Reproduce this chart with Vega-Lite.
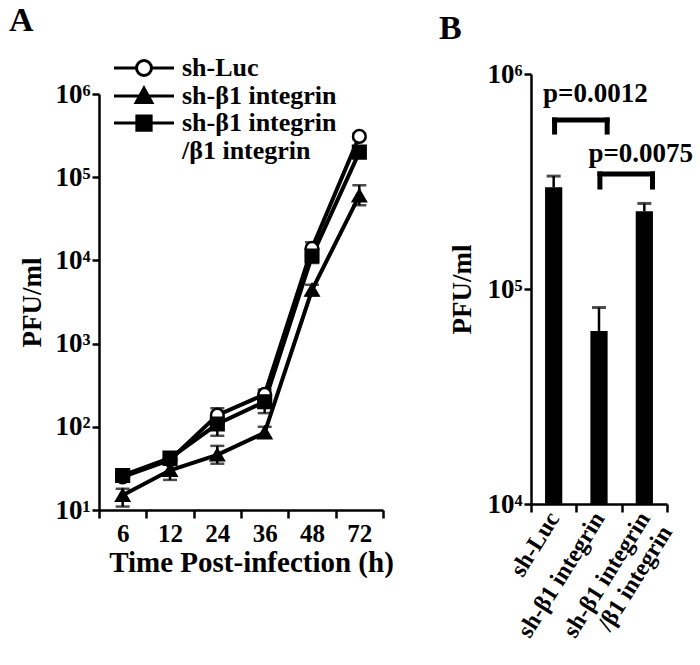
{
  "$schema": "https://vega.github.io/schema/vega-lite/v6.json",
  "background": "white",
  "padding": {"left": 8, "top": 4, "right": 5, "bottom": 5},
  "config": {
    "view": {"stroke": null},
    "font": "Liberation Serif",
    "axis": {
      "domain": true, "ticks": true,
      "domainColor": "#000000", "domainWidth": 2.5, "tickColor": "#000000", "tickWidth": 2.5, "tickSize": 8,
      "labelFont": "Liberation Serif", "labelFontWeight": "bold", "labelColor": "black", "labelFontSize": 25,
      "titleFont": "Liberation Serif", "titleFontWeight": "bold", "titleColor": "black", "titleFontSize": 27,
      "grid": false
    },
    "title": {"font": "Liberation Serif", "fontWeight": "bold", "fontSize": 34, "color": "black", "anchor": "start", "frame": "bounds"}
  },
  "datasets": {
    "growth": [
      {"series": "sh-Luc", "time": 6, "pfu": 25, "lo": 22, "hi": 28},
      {"series": "sh-Luc", "time": 12, "pfu": 40, "lo": 35, "hi": 45},
      {"series": "sh-Luc", "time": 24, "pfu": 138, "lo": 112, "hi": 167},
      {"series": "sh-Luc", "time": 36, "pfu": 245, "lo": 205, "hi": 280},
      {"series": "sh-Luc", "time": 48, "pfu": 14000, "lo": 11500, "hi": 16500},
      {"series": "sh-Luc", "time": 72, "pfu": 310000, "lo": 285000, "hi": 335000},
      {"series": "sh-β1 integrin", "time": 6, "pfu": 15, "lo": 11, "hi": 18},
      {"series": "sh-β1 integrin", "time": 12, "pfu": 30, "lo": 23, "hi": 36},
      {"series": "sh-β1 integrin", "time": 24, "pfu": 46, "lo": 36, "hi": 59},
      {"series": "sh-β1 integrin", "time": 36, "pfu": 85, "lo": 74, "hi": 100},
      {"series": "sh-β1 integrin", "time": 48, "pfu": 4400, "lo": 3800, "hi": 5100},
      {"series": "sh-β1 integrin", "time": 72, "pfu": 60000, "lo": 46000, "hi": 80000},
      {"series": "sh-β1 integrin/β1 integrin", "time": 6, "pfu": 26, "lo": 22, "hi": 30},
      {"series": "sh-β1 integrin/β1 integrin", "time": 12, "pfu": 42, "lo": 36, "hi": 48},
      {"series": "sh-β1 integrin/β1 integrin", "time": 24, "pfu": 108, "lo": 78, "hi": 130},
      {"series": "sh-β1 integrin/β1 integrin", "time": 36, "pfu": 200, "lo": 146, "hi": 250},
      {"series": "sh-β1 integrin/β1 integrin", "time": 48, "pfu": 11300, "lo": 9300, "hi": 13300},
      {"series": "sh-β1 integrin/β1 integrin", "time": 72, "pfu": 200000, "lo": 180000, "hi": 220000}
    ],
    "bars": [
      {"group": "sh-Luc", "pfu": 297000, "hi": 335000},
      {"group": "sh-β1 integrin", "pfu": 63800, "hi": 82000},
      {"group": "sh-β1 integrin/β1 integrin", "pfu": 230000, "hi": 250000}
    ],
    "brackets": [
      {"from": "sh-Luc", "to": "sh-β1 integrin", "top": 611000, "bottom": 537000, "label": "p=0.0012", "textAt": "sh-β1 integrin", "textPos": 740000},
      {"from": "sh-β1 integrin", "to": "sh-β1 integrin/β1 integrin", "top": 343000, "bottom": 298000, "label": "p=0.0075", "textAt": "sh-β1 integrin/β1 integrin", "textPos": 390000}
    ]
  },
  "spacing": 44,
  "hconcat": [
    {
      "width": 284,
      "height": 436,
      "title": {"text": "A", "dx": -10, "dy": -7, "offset": 10},
      "layer": [
        {
          "data": {"name": "growth"},
          "mark": {"type": "line", "strokeWidth": 4, "color": "black"},
          "encoding": {
            "x": {
              "field": "time", "type": "ordinal", "bandPosition": 0.5,
              "scale": {"type": "band", "paddingInner": 0, "paddingOuter": 0},
              "axis": {"title": "Time Post-infection (h)", "titleFontSize": 29, "titleX": 152, "labelAngle": 0, "tickBand": "extent", "labelPadding": 3, "titlePadding": 2}
            },
            "y": {
              "field": "pfu", "type": "quantitative",
              "scale": {"type": "log", "domain": [10, 1000000], "range": [436, 20], "nice": false},
              "axis": {
                "title": "PFU/ml", "values": [10, 100, 1000, 10000, 100000, 1000000],
                "labelExpr": "datum.value < 50 ? '10¹' : datum.value < 500 ? '10²' : datum.value < 5000 ? '10³' : datum.value < 50000 ? '10⁴' : datum.value < 500000 ? '10⁵' : '10⁶'",
                "labelFontSize": 27, "labelPadding": 2, "tickSize": 7, "titlePadding": 8
              }
            },
            "detail": {"field": "series", "type": "nominal"}
          }
        },
        {
          "data": {"name": "growth"},
          "mark": {"type": "rule", "strokeWidth": 2.5, "color": "black"},
          "encoding": {
            "x": {"field": "time", "type": "ordinal", "bandPosition": 0.5, "title": "Time Post-infection (h)"},
            "y": {"field": "lo", "type": "quantitative", "title": "PFU/ml"}, "y2": {"field": "hi"}
          }
        },
        {
          "data": {"name": "growth"},
          "mark": {"type": "tick", "thickness": 2.5, "size": 14, "color": "black"},
          "encoding": {
            "x": {"field": "time", "type": "ordinal", "bandPosition": 0.5, "title": "Time Post-infection (h)"},
            "y": {"field": "lo", "type": "quantitative", "title": "PFU/ml"}
          }
        },
        {
          "data": {"name": "growth"},
          "mark": {"type": "tick", "thickness": 2.5, "size": 14, "color": "black"},
          "encoding": {
            "x": {"field": "time", "type": "ordinal", "bandPosition": 0.5, "title": "Time Post-infection (h)"},
            "y": {"field": "hi", "type": "quantitative", "title": "PFU/ml"}
          }
        },
        {
          "data": {"name": "growth"},
          "mark": {"type": "point", "filled": true, "stroke": "black", "strokeWidth": 2.5, "size": 160, "opacity": 1},
          "encoding": {
            "x": {"field": "time", "type": "ordinal", "bandPosition": 0.5, "title": "Time Post-infection (h)"},
            "y": {"field": "pfu", "type": "quantitative", "title": "PFU/ml"},
            "shape": {"field": "series", "type": "nominal", "scale": {"domain": ["sh-Luc", "sh-β1 integrin", "sh-β1 integrin/β1 integrin"], "range": ["circle", "triangle-up", "square"]}, "legend": null},
            "fill": {"field": "series", "type": "nominal", "scale": {"domain": ["sh-Luc", "sh-β1 integrin", "sh-β1 integrin/β1 integrin"], "range": ["white", "black", "black"]}, "legend": null}
          }
        },
        {
          "data": {"name": "growth"},
          "transform": [{"filter": "false"}],
          "mark": {"type": "point", "filled": true, "strokeWidth": 3, "opacity": 1},
          "encoding": {
            "x": {"field": "time", "type": "ordinal", "bandPosition": 0.5, "title": "Time Post-infection (h)"},
            "y": {"field": "pfu", "type": "quantitative", "title": "PFU/ml"},
            "shape": {
              "field": "series", "type": "nominal",
              "scale": {"domain": ["sh-Luc", "sh-β1 integrin", "sh-β1 integrin/β1 integrin"], "range": ["M-4,0H-1M1,0H4M-1,0A1,1,0,1,0,1,0A1,1,0,1,0,-1,0Z", "M-4,0H4M0,-1.05L1.05,0.85L-1.05,0.85Z", "M-4,0H4M-0.95,-0.95H0.95V0.95H-0.95Z"]},
              "legend": {
                "title": null, "orient": "none", "legendX": 32, "legendY": -19,
                "symbolSize": 225, "symbolStrokeWidth": 3, "symbolStrokeColor": "black", "symbolOpacity": 1,
                "labelOffset": 25, "labelFontSize": 26, "labelFont": "Liberation Serif", "labelFontWeight": "bold", "labelColor": "black",
                "labelLimit": 400, "rowPadding": 0,
                "labelExpr": "datum.value == 'sh-β1 integrin/β1 integrin' ? ['sh-β1 integrin', '/β1 integrin'] : datum.label",
                "encode": {
                  "labels": {"update": {"dy": {"signal": "datum.value == 'sh-β1 integrin/β1 integrin' ? 13 : 0"}}}
                }
              }
            },
            "fill": {"field": "series", "type": "nominal", "scale": {"domain": ["sh-Luc", "sh-β1 integrin", "sh-β1 integrin/β1 integrin"], "range": ["white", "black", "black"]}},
            "stroke": {"field": "series", "type": "nominal", "scale": {"domain": ["sh-Luc", "sh-β1 integrin", "sh-β1 integrin/β1 integrin"], "range": ["black", "black", "black"]}}
          }
        }
      ],
      "resolve": {"scale": {"shape": "independent", "fill": "independent", "stroke": "independent"}}
    },
    {
      "width": 136,
      "height": 430,
      "title": {"text": "B", "dx": -10, "offset": 14},
      "layer": [
        {
          "data": {"name": "bars"},
          "mark": {"type": "bar", "color": "black", "width": {"band": 0.38}},
          "encoding": {
            "x": {
              "field": "group", "type": "nominal",
              "scale": {"domain": ["sh-Luc", "sh-β1 integrin", "sh-β1 integrin/β1 integrin"], "paddingInner": 0, "paddingOuter": 0},
              "axis": {
                "title": null, "labelAngle": -58, "labelAlign": "right", "labelBaseline": "middle", "tickBand": "extent",
                "labelFontSize": 24, "labelPadding": 2,
                "labelExpr": "datum.value == 'sh-β1 integrin/β1 integrin' ? ['sh-β1 integrin', '/β1 integrin'] : datum.label"
              }
            },
            "y": {
              "field": "pfu", "type": "quantitative",
              "scale": {"type": "log", "domain": [10000, 1000000], "nice": false},
              "axis": {
                "title": "PFU/ml", "values": [10000, 100000, 1000000],
                "labelExpr": "datum.value < 50000 ? '10⁴' : datum.value < 500000 ? '10⁵' : '10⁶'",
                "labelFontSize": 27, "labelPadding": 2, "tickSize": 7, "titlePadding": 10
              }
            },
            "y2": {"datum": 10000}
          }
        },
        {
          "data": {"name": "bars"},
          "mark": {"type": "rule", "strokeWidth": 2.5, "color": "black"},
          "encoding": {
            "x": {"field": "group", "type": "nominal", "bandPosition": 0.5, "title": null},
            "y": {"field": "pfu", "type": "quantitative", "title": "PFU/ml"},
            "y2": {"field": "hi"}
          }
        },
        {
          "data": {"name": "bars"},
          "mark": {"type": "tick", "thickness": 3, "size": 14, "color": "black"},
          "encoding": {
            "x": {"field": "group", "type": "nominal", "bandPosition": 0.5, "title": null},
            "y": {"field": "hi", "type": "quantitative", "title": "PFU/ml"}
          }
        },
        {
          "data": {"name": "brackets"},
          "mark": {"type": "rule", "strokeWidth": 5, "color": "black", "strokeCap": "square"},
          "encoding": {
            "x": {"field": "from", "type": "nominal", "bandPosition": 0.52, "title": null},
            "x2": {"field": "to", "bandPosition": 0.68},
            "y": {"field": "top", "type": "quantitative", "title": "PFU/ml"}
          }
        },
        {
          "data": {"name": "brackets"},
          "mark": {"type": "rule", "strokeWidth": 5, "color": "black", "strokeCap": "square"},
          "encoding": {
            "x": {"field": "from", "type": "nominal", "bandPosition": 0.52, "title": null},
            "y": {"field": "top", "type": "quantitative", "title": "PFU/ml"},
            "y2": {"field": "bottom"}
          }
        },
        {
          "data": {"name": "brackets"},
          "mark": {"type": "rule", "strokeWidth": 5, "color": "black", "strokeCap": "square"},
          "encoding": {
            "x": {"field": "to", "type": "nominal", "bandPosition": 0.68, "title": null},
            "y": {"field": "top", "type": "quantitative", "title": "PFU/ml"},
            "y2": {"field": "bottom"}
          }
        },
        {
          "data": {"name": "brackets"},
          "mark": {"type": "text", "font": "Liberation Serif", "fontWeight": "bold", "fontSize": 27, "color": "black", "baseline": "alphabetic", "align": "center"},
          "encoding": {
            "x": {"field": "textAt", "type": "nominal", "bandPosition": 0.42, "title": null},
            "y": {"field": "textPos", "type": "quantitative", "title": "PFU/ml"},
            "text": {"field": "label"}
          }
        }
      ]
    }
  ]
}
